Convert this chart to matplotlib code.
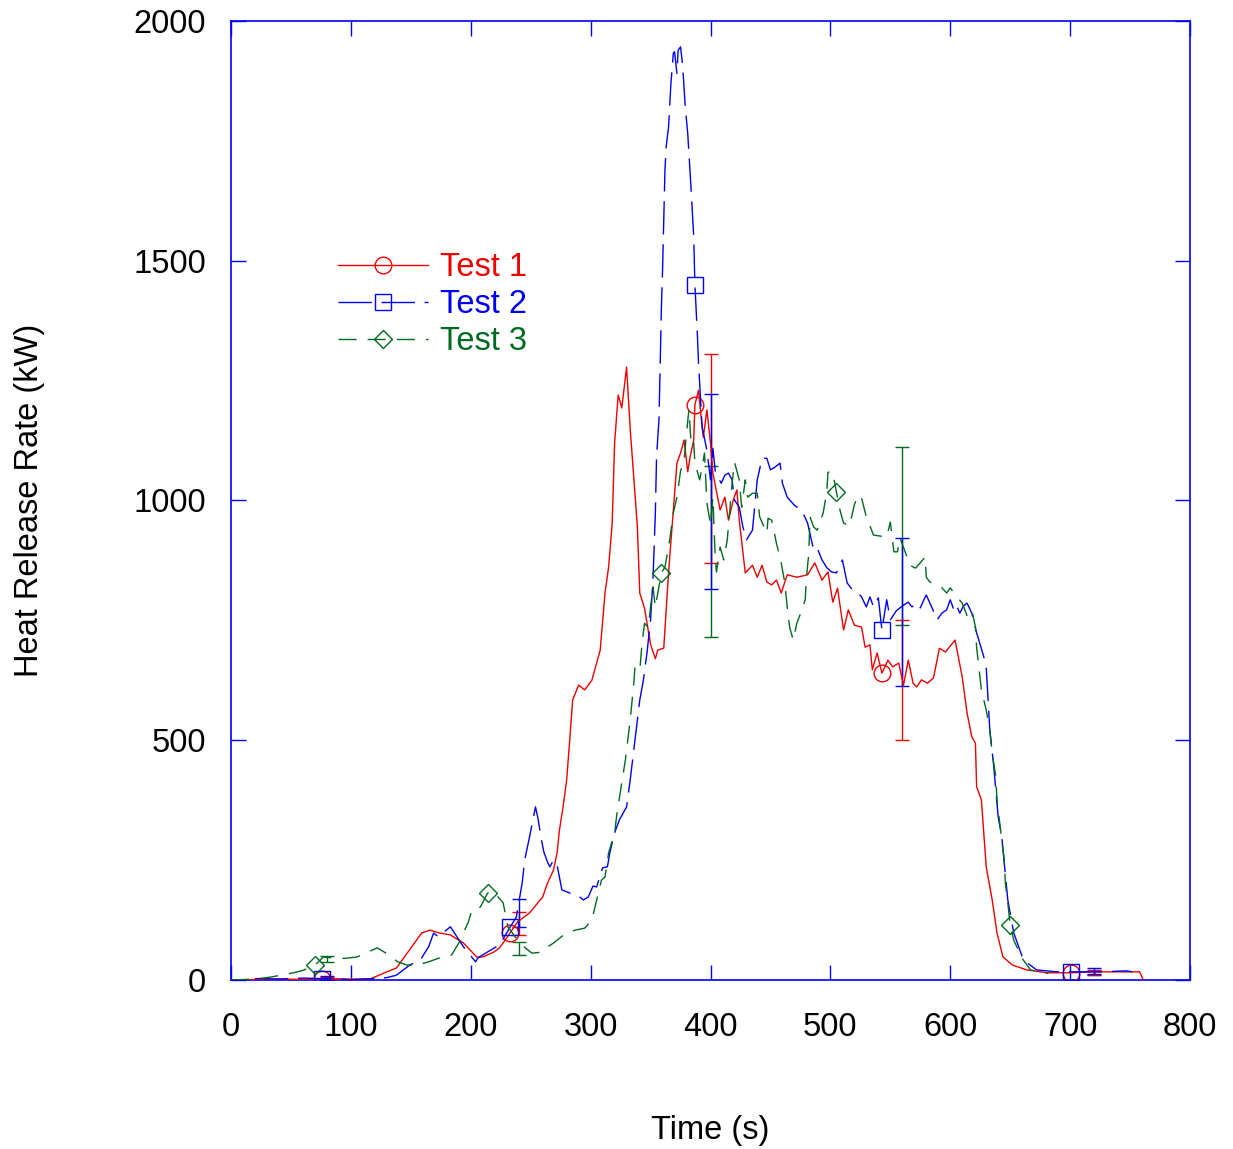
import numpy as np
import matplotlib
matplotlib.use("Agg")
import matplotlib.pyplot as plt

plt.rcParams['font.family'] = ['Liberation Sans', 'DejaVu Sans']
plt.rcParams['lines.scale_dashes'] = False

# --- data ---
t1_x = [0, 20, 40, 60, 76, 100, 116, 130, 138, 149, 159, 166, 174, 183, 194, 205, 210, 219, 224, 230,
        233, 239, 249, 260, 264, 269, 272, 274, 277, 280, 283, 285, 290, 295, 301, 308, 312, 315, 318, 320,
        323, 326, 330, 333, 336, 339, 341, 345, 350, 354, 356, 361, 365, 369, 372, 375, 378, 381, 383, 386,
        387, 390, 392, 394, 397, 400, 402, 408, 412, 415, 419, 422, 424, 429, 435, 439, 443, 447, 451, 455,
        459, 464, 472, 481, 487, 493, 498, 502, 506, 511, 515, 520, 526, 529, 533, 535, 539, 543, 548, 552,
        557, 561, 565, 569, 572, 576, 581, 586, 591, 596, 604, 610, 614, 618, 621, 622, 626, 630, 635, 639,
        644, 652, 664, 681, 701, 717, 731, 747, 758, 761]
t1_y = [0, 1, 2, 1, 3, 2, 2, 17, 25, 63, 98, 104, 98, 94, 77, 48, 48, 58, 67, 88,
        99, 121, 140, 173, 202, 229, 265, 313, 361, 417, 515, 584, 615, 605, 625, 688, 807, 861, 953, 1120,
        1220, 1193, 1278, 1150, 1049, 945, 807, 775, 700, 670, 688, 692, 849, 980, 1078, 1099, 1126, 1060, 1091, 1126,
        1200, 1230, 1178, 1132, 1189, 1120, 1057, 980, 1007, 959, 1001, 1022, 959, 849, 865, 840, 865, 830, 824, 834,
        807, 845, 840, 845, 870, 834, 851, 788, 817, 730, 772, 740, 736, 694, 699, 647, 682, 640, 667, 653,
        661, 615, 667, 619, 611, 626, 619, 630, 692, 684, 709, 632, 557, 507, 494, 403, 375, 236, 167, 98,
        48, 31, 21, 15, 15, 17, 17, 17, 17, 0]

t2_x = [20, 40, 60, 76, 90, 100, 110, 120, 130, 138, 149, 158, 165, 169, 173, 183, 194, 204, 206, 215,
        224, 233, 238, 243, 245, 249, 254, 256, 259, 261, 264, 266, 269, 272, 276, 284, 291, 294, 298, 302,
        305, 310, 314, 316, 320, 324, 330, 333, 337, 341, 344, 347, 350, 352, 354, 355, 357, 358, 359, 360,
        361, 362, 363, 365, 367, 369, 370, 372, 373, 375, 376, 377, 379, 381, 382, 384, 386, 387, 388, 389,
        390, 393, 397, 400, 402, 404, 406, 409, 412, 415, 418, 420, 424, 427, 430, 435, 439, 443, 447, 450,
        454, 458, 460, 464, 470, 476, 481, 486, 489, 493, 497, 501, 505, 510, 514, 518, 522, 526, 530, 533,
        536, 540, 543, 547, 550, 555, 560, 565, 568, 572, 575, 578, 580, 585, 589, 593, 597, 600, 603, 605,
        608, 611, 614, 618, 622, 628, 630, 633, 636, 640, 643, 648, 653, 661, 672, 689, 701, 708, 725, 747,
        752]
t2_y = [3, 2, 4, 3, 2, 0, 2, 3, 5, 10, 31, 42, 70, 98, 90, 111, 69, 38, 46, 60,
        73, 111, 131, 204, 250, 298, 361, 338, 292, 267, 246, 236, 250, 240, 188, 180, 173, 167, 173, 196,
        194, 234, 236, 265, 307, 334, 361, 417, 500, 584, 625, 682, 751, 834, 974, 1091, 1168, 1278, 1400, 1480,
        1585, 1689, 1737, 1779, 1870, 1933, 1936, 1891, 1939, 1946, 1925, 1898, 1819, 1766, 1724, 1641, 1550, 1449, 1397, 1349,
        1287, 1153, 1105, 1043, 1109, 1060, 1049, 1036, 1053, 1057, 1043, 1001, 986, 945, 918, 938, 1043, 1088, 1088, 1064,
        1070, 1078, 1036, 1007, 990, 980, 953, 897, 901, 876, 860, 851, 849, 876, 828, 815, 809, 799, 778, 799,
        778, 797, 730, 793, 751, 770, 780, 788, 778, 786, 776, 793, 803, 775, 751, 765, 772, 793, 772, 782,
        765, 780, 786, 765, 724, 674, 653, 521, 453, 340, 298, 167, 98, 42, 21, 17, 17, 17, 17, 19,
        17]

t3_x = [0, 20, 33, 52, 60, 70, 77, 85, 95, 105, 122, 130, 139, 147, 155, 165, 176, 184, 190, 198,
        201, 208, 214, 219, 227, 231, 237, 244, 251, 259, 264, 269, 278, 287, 295, 301, 306, 309, 312, 315,
        320, 322, 325, 329, 333, 336, 337, 341, 343, 345, 348, 352, 354, 359, 362, 366, 369, 372, 375, 378,
        380, 382, 384, 386, 387, 391, 395, 397, 400, 402, 404, 405, 408, 411, 414, 418, 420, 424, 426, 429,
        431, 435, 439, 441, 447, 448, 451, 455, 459, 462, 464, 466, 469, 472, 476, 479, 480, 482, 483, 486,
        489, 494, 497, 498, 502, 505, 508, 511, 516, 520, 523, 526, 530, 536, 541, 547, 550, 553, 556, 558,
        564, 566, 571, 575, 579, 580, 583, 588, 593, 597, 600, 603, 610, 614, 618, 621, 622, 626, 630, 633,
        635, 638, 639, 643, 645, 646, 648, 650, 653, 660, 667, 678, 682]
t3_y = [0, 2, 6, 15, 20, 31, 48, 46, 45, 48, 67, 55, 38, 31, 31, 38, 48, 52, 77, 121,
        146, 152, 181, 184, 161, 111, 90, 70, 56, 58, 69, 77, 95, 104, 108, 125, 177, 208, 215, 265,
        307, 348, 396, 459, 542, 619, 653, 646, 705, 744, 735, 820, 778, 849, 861, 918, 974, 1007, 1061, 1084,
        1141, 1189, 1112, 1120, 1078, 1043, 1099, 995, 950, 1007, 876, 851, 903, 876, 918, 1036, 1080, 1043, 986, 1043,
        1007, 1015, 1015, 966, 932, 963, 959, 911, 870, 828, 778, 736, 709, 744, 770, 793, 838, 890, 966, 945,
        938, 974, 1018, 1059, 1059, 1018, 980, 953, 947, 991, 1011, 1005, 966, 928, 926, 924, 955, 893, 893, 922,
        882, 865, 859, 870, 882, 840, 830, 825, 818, 807, 818, 807, 786, 760, 772, 736, 694, 605, 563, 521,
        473, 424, 375, 292, 250, 202, 161, 115, 83, 45, 21, 15, 14]

# times where the symbols sit on each curve
t1_marks = [76, 233, 387, 543, 701]
t2_marks = [76, 233, 387, 543, 701]
t3_marks = [70, 214, 359, 505, 650]

# error bar ranges (low, high) at a few times
eb_x = [80, 240, 400, 560, 720]
t1_lo = [0, 94, 870, 500, 10]
t1_hi = [6, 142, 1305, 751, 20]
t2_lo = [0, 111, 815, 613, 12]
t2_hi = [8, 169, 1222, 922, 24]
t3_lo = [38, 52, 715, 740, 10]
t3_hi = [50, 79, 1072, 1112, 18]

red = '#ee0000'
blue = '#0000ee'
green = '#006a1e'
axcol = '#0000ff'
fs = 23.5

fig = plt.figure(figsize=(12.33, 11.49), dpi=100)
ax = fig.add_axes([231/1233, 1-980/1149, 959/1233, 959/1149])


def mark_idx(xs, marks):
    xs = np.asarray(xs)
    return [int(np.argmin(np.abs(xs - m))) for m in marks]


def errbars(lo, hi, col, z):
    lo = np.array(lo, float)
    hi = np.array(hi, float)
    mid = (lo + hi) / 2
    ax.errorbar(eb_x, mid, yerr=[mid - lo, hi - mid], fmt='none', ecolor=col,
                elinewidth=1.0, capsize=5, capthick=1.0, zorder=z)


errbars(t3_lo, t3_hi, green, 2)
errbars(t1_lo, t1_hi, red, 2.1)
errbars(t2_lo, t2_hi, blue, 2.2)

ax.plot(t1_x, t1_y, color=red, lw=1.0, marker='o', ms=12, mfc='none', mec=red, mew=1.0,
        markevery=mark_idx(t1_x, t1_marks), label='Test 1', zorder=3)
ax.plot(t2_x, t2_y, color=blue, lw=1.0, dashes=(24, 7), marker='s', ms=12, mfc='none', mec=blue, mew=1.0,
        markevery=mark_idx(t2_x, t2_marks), label='Test 2', zorder=3)
ax.plot(t3_x, t3_y, color=green, lw=1.0, dashes=(13, 8), marker='D', ms=9, mfc='none', mec=green, mew=1.0,
        markevery=mark_idx(t3_x, t3_marks), label='Test 3', zorder=3)

ax.set_xlim(0, 800)
ax.set_ylim(0, 2000)
ax.set_xticks(np.arange(0, 801, 100))
ax.set_yticks(np.arange(0, 2001, 500))
for s in ax.spines.values():
    s.set_color(axcol)
    s.set_linewidth(1.2)
ax.tick_params(direction='in', length=11, width=1.0, color=axcol, labelcolor='black',
               labelsize=fs, top=True, right=True)
ax.tick_params(axis='x', pad=23)
ax.tick_params(axis='y', pad=18)

ax.set_xlabel('Time (s)', fontsize=fs)
ax.set_ylabel('Heat Release Rate (kW)', fontsize=fs)
ax.xaxis.set_label_coords(0.5, -0.1405)
ax.yaxis.set_label_coords(-0.194, 0.5)

leg = ax.legend(loc='upper left', bbox_to_anchor=(338/1233, 1-252/1149), bbox_transform=fig.transFigure,
                frameon=False, fontsize=fs, handlelength=2.75, handletextpad=0.38, labelspacing=0.19,
                borderpad=0, borderaxespad=0, numpoints=1, labelcolor='linecolor')

fig.savefig('out.png', dpi=100)
